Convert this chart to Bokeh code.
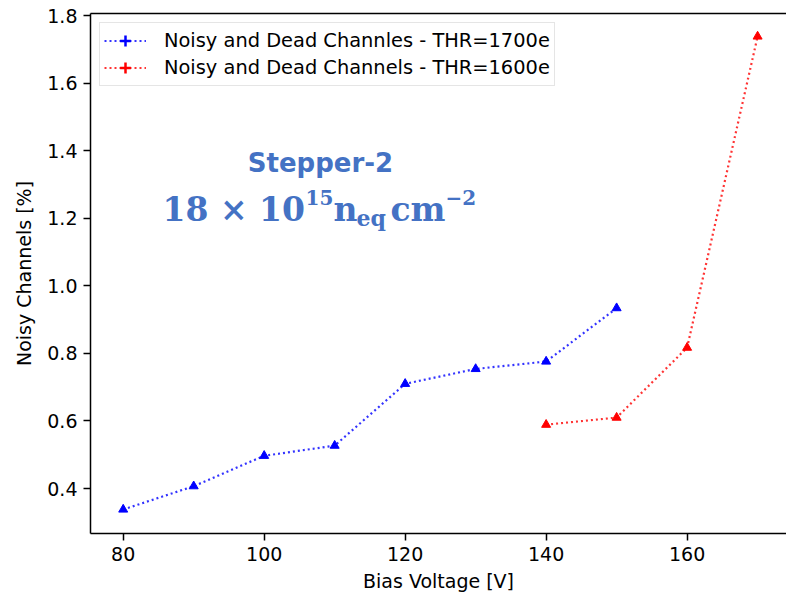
from bokeh.plotting import figure
from bokeh.models import (Range1d, FixedTicker, PrintfTickFormatter, LinearAxis,
                          Legend, LegendItem, Label, ColumnDataSource)
from bokeh.embed import file_html
from bokeh.resources import INLINE

# ---- data ----
bias_1700 = [80, 90, 100, 110, 120, 130, 140, 150]
noisy_1700 = [0.338, 0.407, 0.497, 0.527, 0.710, 0.754, 0.776, 0.934]
bias_1600 = [140, 150, 160, 170]
noisy_1600 = [0.589, 0.610, 0.817, 1.738]
x_ticks = [80, 100, 120, 140, 160]
y_ticks = [0.4, 0.6, 0.8, 1.0, 1.2, 1.4, 1.6, 1.8]
legend_labels = ["Noisy and Dead Channles - THR=1700e",
                 "Noisy and Dead Channels - THR=1600e"]
x_label = "Bias Voltage [V]"
y_label = "Noisy Channels [%]"
title_text = "Stepper-2"

p = figure(width=786, height=594, output_backend="svg", toolbar_location=None,
           x_range=Range1d(75.36, 174.1), y_range=Range1d(0.267, 1.806),
           min_border_left=90, min_border_right=0, min_border_top=13,
           min_border_bottom=60, x_axis_label=x_label, y_axis_label=y_label)
p.xgrid.visible = False
p.ygrid.visible = False
p.outline_line_color = None

p.xaxis.ticker = FixedTicker(ticks=x_ticks)
p.yaxis.ticker = FixedTicker(ticks=y_ticks)
p.yaxis.formatter = PrintfTickFormatter(format="%.1f")

for ax in (p.xaxis[0], p.yaxis[0]):
    ax.axis_line_width = 1.5
    ax.axis_line_color = "black"
    ax.major_tick_line_width = 1.5
    ax.major_tick_line_color = "black"
    ax.major_tick_out = 7
    ax.major_tick_in = 0
    ax.minor_tick_out = 0
    ax.minor_tick_in = 0
    ax.major_label_text_font = "DejaVu Sans"
    ax.major_label_text_font_size = "19px"
    ax.major_label_text_color = "black"
    ax.axis_label_text_font = "DejaVu Sans"
    ax.axis_label_text_font_size = "19px"
    ax.axis_label_text_font_style = "normal"
    ax.axis_label_text_color = "black"
p.xaxis.major_label_standoff = 6
p.xaxis.axis_label_standoff = 6
p.yaxis.major_label_standoff = 6
p.yaxis.axis_label_standoff = 9

top = LinearAxis(ticker=FixedTicker(ticks=[]), major_tick_out=0, major_tick_in=0,
                 minor_tick_out=0, minor_tick_in=0, major_label_standoff=0,
                 axis_line_width=1.5, axis_line_color="black")
p.add_layout(top, "above")

src1 = ColumnDataSource(dict(x=bias_1700, y=noisy_1700))
src2 = ColumnDataSource(dict(x=bias_1600, y=noisy_1600))

l1 = p.line("x", "y", source=src1, line_color="#0000ff", line_alpha=0.8,
            line_dash="2 3", line_width=2.2)
p.scatter("x", "y", source=src1, marker="triangle", size=9, color="#0000ff")
c1 = p.scatter("x", "y", source=src1, marker="cross", size=0,
               line_color="#0000ff", line_width=2.5)

l2 = p.line("x", "y", source=src2, line_color="#ff0000", line_alpha=0.8,
            line_dash="2 3", line_width=2.2)
p.scatter("x", "y", source=src2, marker="triangle", size=9, color="#ff0000")
c2 = p.scatter("x", "y", source=src2, marker="cross", size=0,
               line_color="#ff0000", line_width=2.5)

legend = Legend(items=[LegendItem(label=legend_labels[0], renderers=[l1, c1]),
                       LegendItem(label=legend_labels[1], renderers=[l2, c2])],
                location="top_left", glyph_width=42, glyph_height=27,
                label_standoff=18, padding=4, spacing=0, margin=9,
                border_line_color="#cccccc", border_line_width=1.5,
                background_fill_alpha=0.8,
                label_text_font="DejaVu Sans", label_text_font_size="19.4px",
                label_text_color="black")
p.add_layout(legend)

blue = "#4472C4"
p.add_layout(Label(x=230, y=371, x_units="screen", y_units="screen",
                   text=title_text, text_align="center", text_baseline="alphabetic",
                   text_font="DejaVu Sans", text_font_style="bold",
                   text_font_size="26px", text_color=blue))

math_parts = [
    ("18 \u00d7 10", 72, 324, "33px"),
    ("15", 215, 336, "20px"),
    ("n", 243, 324, "33px"),
    ("eq", 266, 316, "22px"),
    ("cm", 300, 324, "33px"),
    ("\u22122", 355, 336, "20px"),
]
for txt, sx, sy, fs in math_parts:
    p.add_layout(Label(x=sx, y=sy, x_units="screen", y_units="screen", text=txt,
                       text_align="left", text_baseline="alphabetic",
                       text_font="DejaVu Serif", text_font_style="bold",
                       text_font_size=fs, text_color=blue))

open("out.html", "w").write(file_html(p, INLINE))
